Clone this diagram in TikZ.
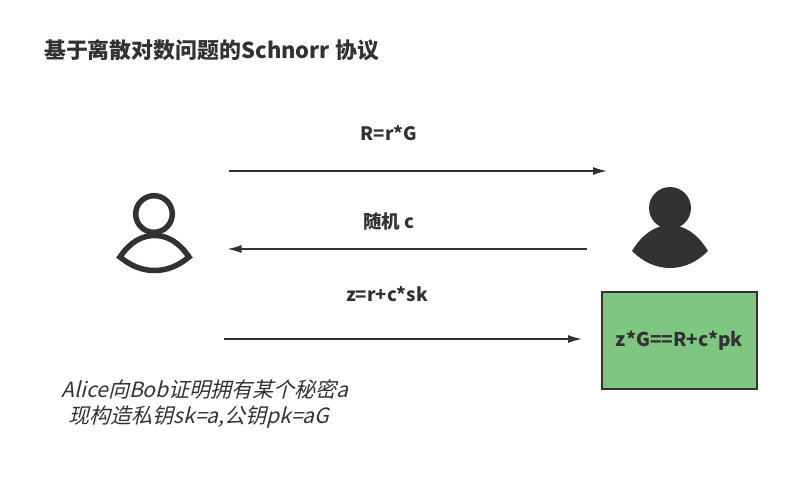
\documentclass[tikz,border=0pt]{standalone}
\usepackage{fontspec}
\usetikzlibrary{arrows.meta}
\setmainfont{Noto Sans CJK SC}
\newfontfamily\slantcjk{Noto Sans CJK SC}[FakeSlant=0.25]
\definecolor{ink}{HTML}{323232}
\definecolor{boxgreen}{HTML}{7EC682}
\tikzset{
  x=1pt,y=-1pt,
  every node/.style={inner sep=0pt,text=ink},
  msg/.style={draw=ink,line width=1.4pt,-{Latex[length=14pt,width=8pt]}},
  lbl/.style={font=\fontsize{18.5}{22}\selectfont\bfseries},
  title/.style={font=\fontsize{21.9}{26}\selectfont\bfseries},
  note/.style={font=\fontsize{21}{26}\selectfont\slantcjk,align=center},
  icon/.style={draw=ink,line width=5.5pt,line join=miter},
  solidicon/.style={fill=ink,draw=none},
  result/.style={draw=ink,line width=2pt,fill=boxgreen,minimum width=155pt,minimum height=97pt,font=\fontsize{19}{23}\selectfont\bfseries}
}
\begin{document}
\begin{tikzpicture}
\useasboundingbox (0,0) rectangle (788,477);
\node[title,anchor=west] (t) at (44,50) {基于离散对数问题的Schnorr 协议};
% left person
\draw[icon] (154,214) circle (18.3);
\draw[icon] (120,257) .. controls (130,242) and (142,235.5) .. (154.5,235.5) .. controls (167,235.5) and (179,242) .. (189,257) .. controls (178,266) and (167,270.5) .. (154.5,270.5) .. controls (142,270.5) and (131,266) .. (120,257) -- cycle;
% right person
\fill[solidicon] (670,208) circle (21);
\fill[solidicon] (632,251) .. controls (642,234) and (656,225) .. (670,225) .. controls (684,225) and (698,234) .. (708,251) .. controls (697,262) and (684,268) .. (670,268) .. controls (656,268) and (643,262) .. (632,251) -- cycle;
% messages
\coordinate (a1) at (229,171); \coordinate (b1) at (607,171);
\coordinate (a2) at (587,249); \coordinate (b2) at (227.5,249);
\coordinate (a3) at (224,339); \coordinate (b3) at (582,339);
\draw[msg] (a1) -- (b1);
\draw[msg] (a2) -- (b2);
\draw[msg] (a3) -- (b3);
\node[lbl] (l1) at (389,133) {R=r*G};
\node[lbl] (l2) at (389,221) {随机 c};
\node[lbl] (l3) at (387,294) {z=r+c*sk};
\node[result] (r) at (679.5,340.5) {z*G==R+c*pk};
\node[note] (n) at (205,404) {Alice向Bob证明拥有某个秘密a\\现构造私钥sk=a,公钥pk=aG\hspace*{12pt}};
\end{tikzpicture}
\end{document}
